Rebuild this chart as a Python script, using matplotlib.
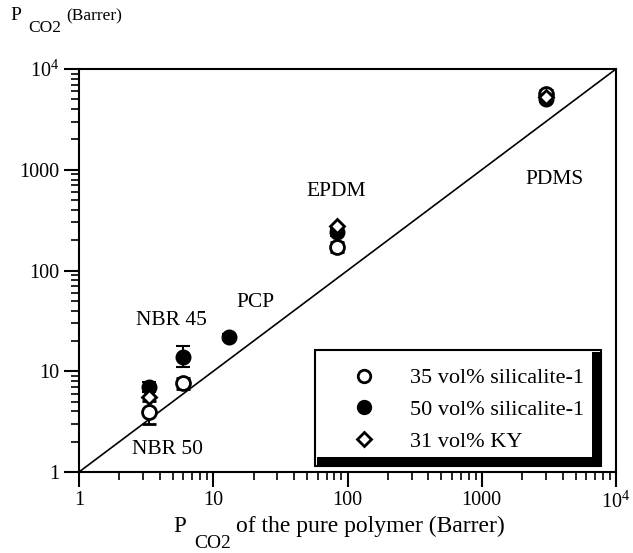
import matplotlib
matplotlib.use("Agg")
import matplotlib.pyplot as plt
from matplotlib.patches import Rectangle
from matplotlib.lines import Line2D

FONT = "Liberation Serif"
plt.rcParams['font.family'] = [FONT, 'DejaVu Serif']
plt.rcParams['mathtext.fontset'] = 'custom'
plt.rcParams['mathtext.rm'] = FONT
plt.rcParams['mathtext.it'] = FONT
plt.rcParams['mathtext.bf'] = FONT

# ---- data ----
# 35 vol% silicalite-1 (open circles)
x_sil35 = [3.3, 6.0, 83.0, 3000.0]
y_sil35 = [3.9, 7.6, 170.0, 5700.0]
y_sil35_lo = [0.9, 0.9, 18.0, 500.0]
y_sil35_hi = [1.2, 0.9, 20.0, 500.0]

# 50 vol% silicalite-1 (filled circles)
x_sil50 = [3.3, 6.0, 13.0, 83.0, 3000.0]
y_sil50 = [7.0, 14.0, 22.0, 240.0, 5000.0]
y_sil50_lo = [0.8, 3.0, 1.5, 20.0, 300.0]
y_sil50_hi = [0.8, 4.0, 1.5, 20.0, 300.0]

# 31 vol% KY (diamonds)
x_ky = [3.3, 83.0, 3000.0]
y_ky = [5.5, 275.0, 5300.0]

labels_text = ["NBR 50", "NBR 45", "PCP", "EPDM", "PDMS"]
label_x = [4.6, 4.9, 20.5, 82.0, 3500.0]
label_y = [1.69, 32.0, 48.0, 610.0, 800.0]

series_names = ["35 vol% silicalite-1", "50 vol% silicalite-1", "31 vol% KY"]
tick_vals = [1, 10, 100, 1000, 1e4]
tick_labels = ["1", "10", "100", "1000", r"$10^4$"]

W, H = 633, 553
fig = plt.figure(figsize=(W / 100, H / 100), dpi=100)
left, right, top, bottom = 79, 616, 69, 472
ax = fig.add_axes([left / W, 1 - bottom / H, (right - left) / W, (bottom - top) / H])
ax.set_xscale('log')
ax.set_yscale('log')
ax.set_xlim(1, 1e4)
ax.set_ylim(1, 1e4)

# diagonal
ax.plot([1, 1e4], [1, 1e4], color='black', lw=1.2, zorder=1)

ms = 10
ax.errorbar(x_sil35, y_sil35, yerr=[y_sil35_lo, y_sil35_hi], fmt='o', ms=ms,
            mfc='white', mec='black', mew=2, ecolor='black', elinewidth=1.5,
            capsize=5, capthick=2, zorder=3)
ax.errorbar(x_sil50, y_sil50, yerr=[y_sil50_lo, y_sil50_hi], fmt='o', ms=ms,
            mfc='black', mec='black', mew=1.5, ecolor='black', elinewidth=1.5,
            capsize=5, capthick=2, zorder=4)
ax.plot(x_ky, y_ky, 'D', ms=7.5, mfc='white', mec='black', mew=2, zorder=5)

for t, lx, ly in zip(labels_text, label_x, label_y):
    ax.text(lx, ly, t, fontsize=15.5, family=FONT, ha='center', va='center')

# ticks
ax.tick_params(axis='both', which='major', direction='out', length=11, width=1.5,
               labelsize=14.5, pad=3)
ax.tick_params(axis='both', which='minor', direction='out', length=6, width=1.2)
ax.set_xticks(tick_vals)
ax.set_xticklabels(tick_labels)
ax.set_yticks(tick_vals)
ax.set_yticklabels(tick_labels)
for lab in ax.get_xticklabels() + ax.get_yticklabels():
    lab.set_family(FONT)
for s in ax.spines.values():
    s.set_linewidth(1.5)

# axis titles
def ftxt(x, y, s, size, **kw):
    fig.text(x / W, 1 - y / H, s, fontsize=size, family=FONT, **kw)

ftxt(10, 16, "P", 14, va='center')
ftxt(28, 28, "CO2", 12.5, va='center')
ftxt(66, 16, "(Barrer)", 12.5, va='center')

ftxt(173, 526, "P", 16.5, va='center')
ftxt(194, 544, "CO2", 14, va='center')
ftxt(236, 526, "of the pure polymer (Barrer)", 17, va='center')

# legend box with thick bottom/right border
bx0, by0, bx1, by1 = 315, 350, 601, 466
th = 9
box = Rectangle((bx0 / W, 1 - by1 / H), (bx1 - bx0) / W, (by1 - by0) / H,
                transform=fig.transFigure, facecolor='white', edgecolor='black',
                lw=1.5, zorder=7)
fig.add_artist(box)
bot_bar = Rectangle(((bx0 + 2) / W, 1 - by1 / H), (bx1 - bx0 - 2) / W, th / H,
                    transform=fig.transFigure, facecolor='black', edgecolor='none', zorder=8)
right_bar = Rectangle(((bx1 - th) / W, 1 - by1 / H), th / W, (by1 - by0 - 2) / H,
                      transform=fig.transFigure, facecolor='black', edgecolor='none', zorder=8)
fig.add_artist(bot_bar)
fig.add_artist(right_bar)

handles = [
    Line2D([], [], ls='none', marker='o', ms=9, mfc='white', mec='black', mew=2),
    Line2D([], [], ls='none', marker='o', ms=10, mfc='black', mec='black'),
    Line2D([], [], ls='none', marker='D', ms=7, mfc='white', mec='black', mew=2),
]
leg = fig.legend(handles, series_names, loc='upper left',
                 bbox_to_anchor=(330 / W, 1 - 350 / H), frameon=False,
                 prop={'family': FONT, 'size': 16}, handletextpad=1.3,
                 labelspacing=0.5, handlelength=1.5, borderpad=0.3)
leg.set_zorder(9)

fig.savefig("out.png", dpi=100)
